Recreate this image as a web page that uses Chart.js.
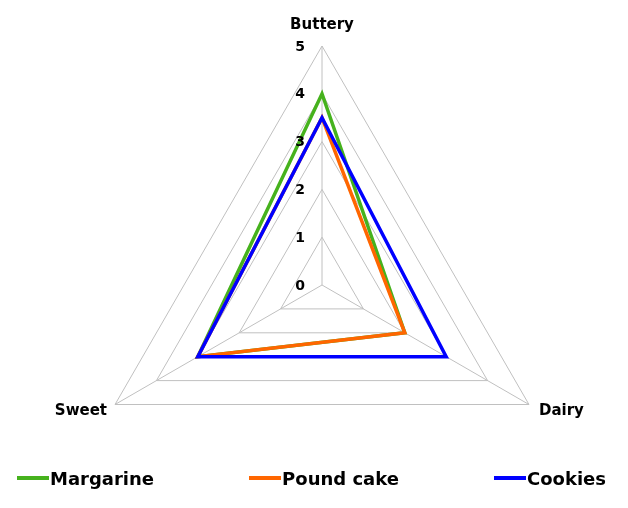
<!DOCTYPE html>
<html>
<head>
<meta charset="utf-8">
<script src="https://cdn.jsdelivr.net/npm/chart.js@4.4.0/dist/chart.umd.min.js"></script>
<style>
html, body { margin: 0; padding: 0; background: #fff; }
#wrap { position: relative; width: 628px; height: 508px; }
#myChart { position: absolute; left: 0; top: 0; }
#legend { position: absolute; left: 0; top: 467px; width: 628px; box-sizing: border-box;
  padding: 0 22px 0 17px; display: flex; justify-content: space-between;
  font: bold 18px "DejaVu Sans", Verdana, sans-serif; color: #000; }
#legend .item { display: flex; align-items: center; height: 22px; }
#legend .mark { width: 32px; height: 4px; margin-right: 1px; }
</style>
</head>
<body>
<div id="wrap">
  <canvas id="myChart" width="628" height="508"></canvas>
  <div id="legend"></div>
</div>
<script>
'use strict';

const categories = ['Buttery', 'Dairy', 'Sweet'];
const seriesNames = ['Margarine', 'Pound cake', 'Cookies'];
const margarine = [4, 2, 3];
const poundCake = [3.5, 2, 3];
const cookies = [3.5, 3, 3];
const tickLabels = ['0', '1', '2', '3', '4', '5'];
const colors = ['#46b21d', '#ff6600', '#0000ff'];

const FONT = '"DejaVu Sans", Verdana, sans-serif';

// Excel style labels: ticks to the left of the vertical axis, names outside the corners
const labelsPlugin = {
	id: 'excelLabels',
	afterDatasetsDraw(chart) {
		const s = chart.scales.r;
		const ctx = chart.ctx;
		ctx.save();
		ctx.fillStyle = '#000';
		ctx.font = 'bold 14px ' + FONT;
		ctx.textAlign = 'right';
		ctx.textBaseline = 'middle';
		s.ticks.forEach((t, i) => {
			const d = s.getDistanceFromCenterForValue(t.value);
			ctx.fillText(tickLabels[i], s.xCenter - 17, s.yCenter - d + 1);
		});
		ctx.font = 'bold 15px ' + FONT;
		categories.forEach((c, i) => {
			const p = s.getPointPosition(i, s.drawingArea);
			const dx = p.x - s.xCenter;
			if (Math.abs(dx) < 1) {
				ctx.textAlign = 'center';
				ctx.fillText(c, p.x, p.y - 21);
			} else if (dx > 0) {
				ctx.textAlign = 'left';
				ctx.fillText(c, p.x + 10, p.y + 7);
			} else {
				ctx.textAlign = 'right';
				ctx.fillText(c, p.x - 8, p.y + 7);
			}
		});
		ctx.restore();
	}
};

const ctx = document.getElementById('myChart');

const myChart = new Chart(ctx, {
	type: 'radar',
	data: {
		labels: categories,
		datasets: [
			{ label: seriesNames[0], data: margarine, borderColor: colors[0], backgroundColor: colors[0], order: 3 },
			{ label: seriesNames[1], data: poundCake, borderColor: colors[1], backgroundColor: colors[1], order: 2 },
			{ label: seriesNames[2], data: cookies, borderColor: colors[2], backgroundColor: colors[2], order: 1 }
		]
	},
	options: {
		responsive: false,
		animation: false,
		elements: {
			line: { borderWidth: 3.5, fill: false, tension: 0 },
			point: { radius: 0, hoverRadius: 0 }
		},
		plugins: {
			legend: { display: false },
			tooltip: { enabled: false }
		},
		scales: {
			r: {
				min: 0,
				max: 5,
				ticks: { display: false, stepSize: 1, showLabelBackdrop: false },
				grid: { color: '#c0c0c0', lineWidth: 1 },
				angleLines: { color: '#c0c0c0', lineWidth: 1 },
				pointLabels: { display: false },
				afterFit(scale) {
					scale.xCenter = 322;
					scale.yCenter = 285;
					scale.drawingArea = 239;
				}
			}
		}
	},
	plugins: [labelsPlugin]
});

// legend built from the chart's own legend items
const legendEl = document.getElementById('legend');
myChart.data.datasets.forEach((ds) => {
	const item = document.createElement('div');
	item.className = 'item';
	const mark = document.createElement('span');
	mark.className = 'mark';
	mark.style.background = ds.borderColor;
	const txt = document.createElement('span');
	txt.textContent = ds.label;
	item.appendChild(mark);
	item.appendChild(txt);
	legendEl.appendChild(item);
});
</script>
</body>
</html>
